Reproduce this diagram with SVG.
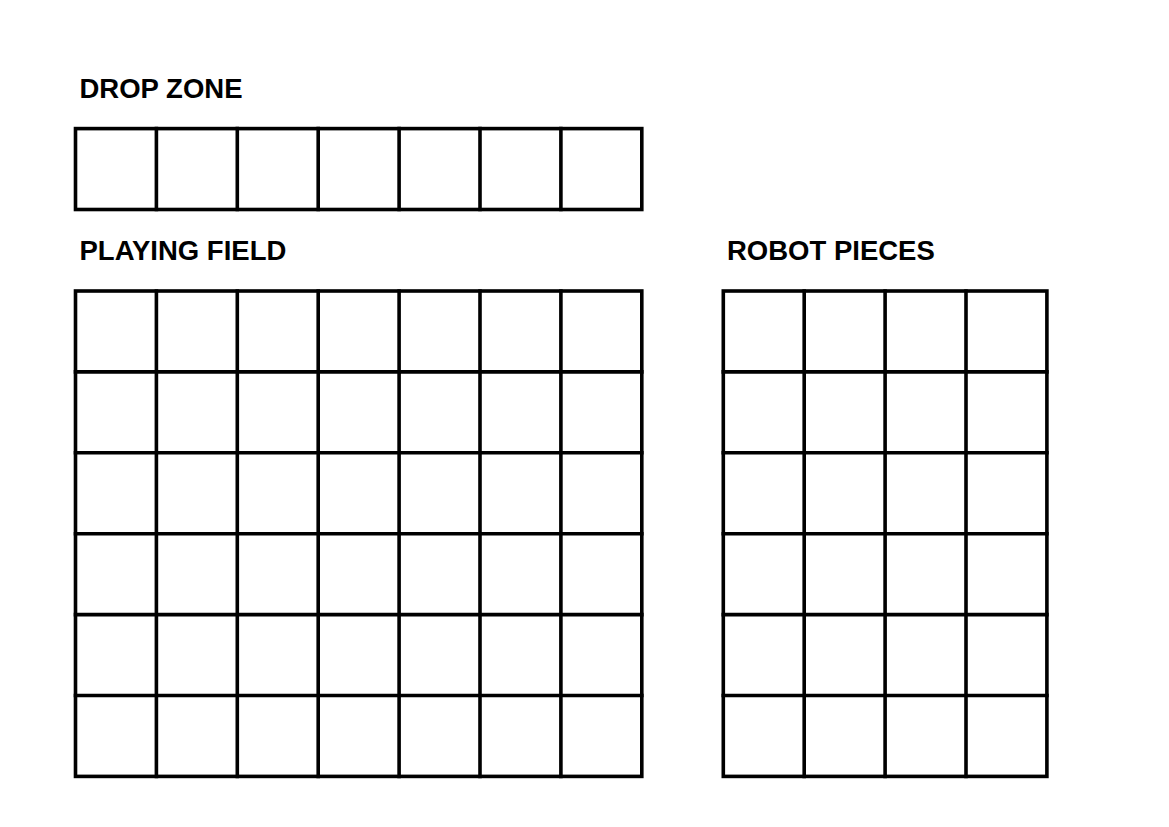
<svg xmlns="http://www.w3.org/2000/svg" width="1169" height="827" viewBox="0 0 1169 827">
<style>
.lbl{font-family:"Liberation Sans",Arial,sans-serif;font-weight:bold;font-size:27.5px;fill:#000}
.grid{fill:none;stroke:#000;stroke-width:3.6;stroke-linecap:square;stroke-linejoin:miter}
</style>
<rect width="1169" height="827" fill="#fff"/>
<g id="drop-zone">
<text class="lbl" x="79.5" y="97.5">DROP ZONE</text>
<rect class="grid" x="75.5" y="128.6" width="566.3" height="80.9"/>
<path class="grid" d="M156.4 128.6V209.5M237.3 128.6V209.5M318.2 128.6V209.5M399.1 128.6V209.5M480 128.6V209.5M560.9 128.6V209.5"/>
</g>
<g id="playing-field">
<text class="lbl" x="79.5" y="259.5">PLAYING FIELD</text>
<rect class="grid" x="75.5" y="291" width="566.3" height="485.4"/>
<path class="grid" d="M156.4 291V776.4M237.3 291V776.4M318.2 291V776.4M399.1 291V776.4M480 291V776.4M560.9 291V776.4M75.5 371.9H641.8M75.5 452.8H641.8M75.5 533.7H641.8M75.5 614.6H641.8M75.5 695.5H641.8"/>
</g>
<g id="robot-pieces">
<text class="lbl" x="727" y="260">ROBOT PIECES</text>
<rect class="grid" x="723.3" y="291" width="323.6" height="485.4"/>
<path class="grid" d="M804.2 291V776.4M885.1 291V776.4M966 291V776.4M723.3 371.9H1046.9M723.3 452.8H1046.9M723.3 533.7H1046.9M723.3 614.6H1046.9M723.3 695.5H1046.9"/>
</g>
<g id="connectors"></g>
</svg>
